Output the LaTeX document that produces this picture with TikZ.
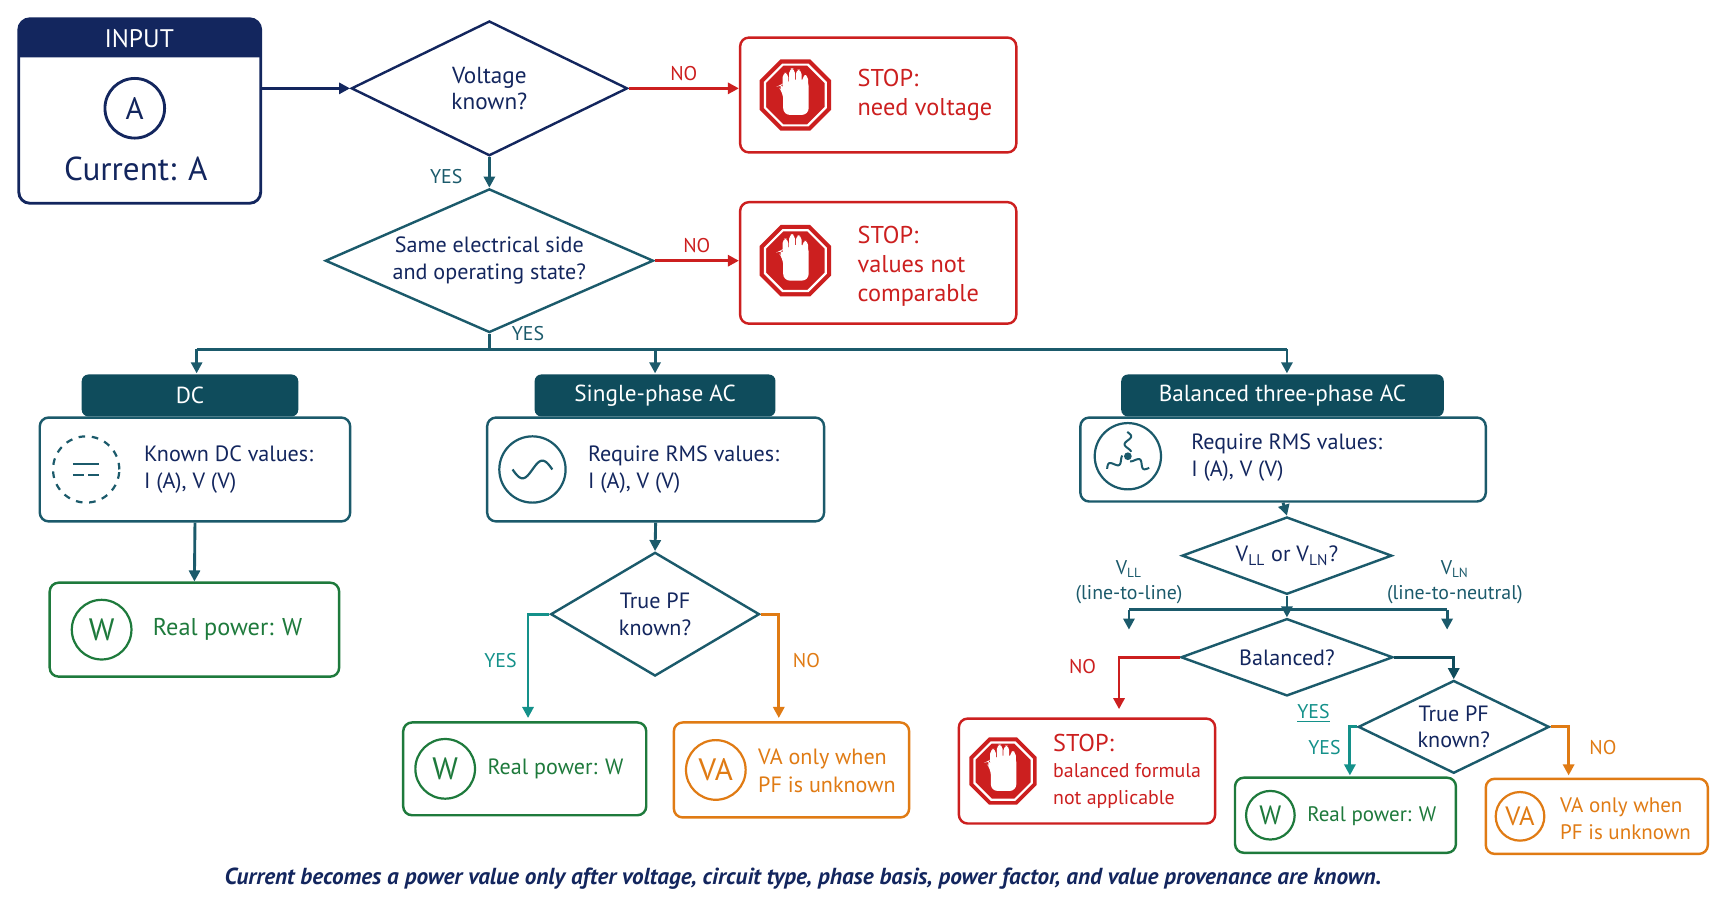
\documentclass[tikz,border=0pt]{standalone}
\usepackage{fontspec}
\setmainfont{PT Sans}
\usetikzlibrary{shapes.geometric,arrows.meta}
\definecolor{navy}{HTML}{13265E}
\definecolor{tl}{HTML}{1B5A6B}
\definecolor{hd}{HTML}{0F4C5C}
\definecolor{rd}{HTML}{CC1F1F}
\definecolor{gr}{HTML}{1E7A3C}
\definecolor{og}{HTML}{E07B14}
\definecolor{yt}{HTML}{14918A}
\newcommand\mystop[3]{% x y r
  \fill[rd] (#1,#2) ++(22.5:#3) \foreach \k in {1,...,7}{ -- ++({22.5+45*\k+67.5}:{2*#3*sin(22.5)}) } -- cycle;
  \draw[white,line width=1pt] (#1,#2) ++(22.5:#3*0.85) \foreach \k in {1,...,7}{ -- ++({22.5+45*\k+67.5}:{2*0.85*#3*sin(22.5)}) } -- cycle;
  \begin{scope}[shift={(#1,#2)},white]
   \fill[rounded corners=3pt] (-11,18) -- (-11,-2) -- (-16,-8) -- (-12,-10) -- (-8,-6) -- (-8,-14) -- (12,-14) -- (12,18) -- cycle;
   \foreach \fx/\fy in {-9/-20,-3/-24,3/-23,9/-18}{\fill[rounded corners=2pt] (\fx-2.6,\fy) rectangle (\fx+2.6,-4);}
  \end{scope}}
\tikzset{
 every node/.style={font=\fontsize{10}{12}\selectfont},
 ln/.style={line width=1.3pt},
 arr/.style={ln,-{Triangle[length=5pt,width=5pt]}},
 box/.style={draw,rounded corners=4pt,line width=1.1pt,fill=white,minimum width=#1},
 dia/.style n args={2}{draw,diamond,line width=1.1pt,inner sep=0pt,minimum width=#1,minimum height=#2,aspect=2},
 hdr/.style={fill=hd,text=white,rounded corners=3pt,font=\fontsize{10.5}{12}\selectfont},
 txt/.style={anchor=west,align=left,inner sep=0pt},
 lab/.style={font=\fontsize{9}{11}\selectfont,inner sep=0pt},
 ic/.style={draw,circle,line width=1pt,inner sep=0pt,minimum size=#1},
}
\begin{document}
\begin{tikzpicture}[x=0.5pt,y=-0.5pt]
\useasboundingbox (0,0) rectangle (1567,823);
% input
\draw[navy,line width=1.3pt,rounded corners=5pt] (17,17) rectangle (236,184);
\fill[navy] (17,52) [rounded corners=5pt] -- (17,17) -- (236,17) [sharp corners] -- (236,52) -- cycle;
\node[text=white,font=\fontsize{11.5}{13}\selectfont] (inh) at (126,35) {INPUT};
\node[ic=27pt,navy,line width=1.3pt,font=\fontsize{14}{16}\selectfont] (ia) at (122,98) {A};
\node[navy,font=\fontsize{15}{18}\selectfont] (in) at (123,153) {Current: A};
\coordinate (inr) at (236,80);
% d1
\node[dia={125pt}{61pt},navy,align=center,text=navy,font=\fontsize{10.5}{12}\selectfont] (d1) at (443,80) {Voltage\\known?};
\draw[arr,navy] (inr) -- (d1.west);
\node[box=125pt,minimum height=52pt,draw=rd] (s1) at (795,86) {};
\mystop{720}{86}{35}
\node[txt,text=rd,font=\fontsize{11}{13}\selectfont] (s1t) at (776,86) {STOP:\\need voltage};
\draw[arr,rd] (d1.east) -- (d1.east -| s1.west) node[midway,above=3pt,lab,text=rd] {NO};
% d2
\node[dia={148.5pt}{60pt},tl,align=center,text=navy] (d2) at (443,236) {Same electrical side\\and operating state?};
\draw[arr,tl] (d1.south) -- (d2.north);
\node[lab,text=tl] at (404,160) {YES};
\node[box=125pt,minimum height=55pt,draw=rd] (s2) at (795,238) {};
\mystop{720}{236}{35}
\node[txt,text=rd,font=\fontsize{11}{13}\selectfont] (s2t) at (776,241) {STOP:\\values not\\comparable};
\draw[arr,rd] (d2.east) -- (d2.east -| s2.west) node[midway,above=3pt,lab,text=rd] {NO};
\node[lab,text=tl] at (478,302) {YES};
% branches
\coordinate (bj) at (443,316);
\node[hdr,minimum width=98pt,minimum height=19pt] (h1) at (172,358) {DC};
\node[hdr,minimum width=109pt,minimum height=19pt] (h2) at (593,358) {Single-phase AC};
\node[hdr,minimum width=146pt,minimum height=19pt] (h3) at (1161,358) {Balanced three-phase AC};
\draw[ln,tl] (d2.south) -- (bj);
\draw[ln,tl] (178,316) -- (1165,316);
\draw[arr,tl] (178,316) -- (178,338);
\draw[arr,tl] (593,316) -- (593,338);
\draw[arr,tl] (1165,316) -- (1165,338);
% DC
\node[box=140.5pt,minimum height=47pt,draw=tl] (b1) at (176.5,425) {};
\node[ic=30pt,draw=tl,dashed] (i1) at (78,425) {};
\draw[tl,line width=1.2pt] (66,420) -- (90,420);
\draw[tl,line width=1.2pt,dash pattern=on 5pt off 2pt] (66,430) -- (90,430);
\node[txt,text=navy] (b1t) at (130,425) {Known DC values:\\I (A), V (V)};
\node[box=131pt,minimum height=42.5pt,draw=gr] (g1) at (176,570) {};
\draw[arr,tl] (b1.south) -- (g1.north);
\node[ic=27pt,gr,font=\fontsize{14}{16}\selectfont] (w1) at (92,570) {W};
\node[txt,text=gr,font=\fontsize{11}{13}\selectfont] at (138,570) {Real power: W};
% single
\node[box=152.5pt,minimum height=47pt,draw=tl] (b2) at (593.5,425) {};
\node[ic=30pt,draw=tl] (i2) at (482,425) {};
\draw[tl,line width=1pt,domain=-18:18,samples=40] plot (\x+482,{425-8*sin(\x*10)});
\node[txt,text=navy] (b2t) at (532,425) {Require RMS values:\\I (A), V (V)};
\node[dia={94.5pt}{56pt},tl,align=center,text=navy] (d3) at (593,556) {True PF\\known?};
\draw[arr,tl] (b2.south) -- (d3.north);
\node[box=110pt,minimum height=42pt,draw=gr] (g2) at (475,696) {};
\node[ic=27pt,gr,font=\fontsize{14}{16}\selectfont] (w2) at (403,696) {W};
\node[txt,text=gr,font=\fontsize{10}{12}\selectfont] at (441,696) {Real power: W};
\node[box=106.5pt,minimum height=43pt,draw=og] (o2) at (716.5,697) {};
\node[ic=27pt,og,font=\fontsize{14}{16}\selectfont] (va2) at (648,697) {VA};
\node[txt,text=og,font=\fontsize{10}{12.5}\selectfont] at (686,698) {VA only when\\PF is unknown};
\draw[arr,yt] (d3.west) -| (478,650);
\draw[arr,og] (d3.east) -| (705,650);
\node[lab,text=yt] at (453,598) {YES};
\node[lab,text=og] at (730,598) {NO};
% three-phase
\node[box=183.5pt,minimum height=38pt,draw=tl] (b3) at (1161.5,416) {};
\node[ic=30pt,draw=tl] (i3) at (1021,413) {};
\begin{scope}[shift={(1021,413)},tl,line width=0.9pt]
 \foreach \a in {90,210,330}{\draw[rotate=\a,domain=4:22,samples=25] plot (\x,{3*sin(\x*25)});}
 \fill (0,0) circle (3.5);
\end{scope}
\node[txt,text=navy] (b3t) at (1078,414) {Require RMS values:\\I (A), V (V)};
\node[dia={95pt}{35pt},tl,text=navy] (d4) at (1165,503) {V\textsubscript{LL} or V\textsubscript{LN}?};
\draw[arr,tl] (b3.south) -- (d4.north);
\node[dia={96pt}{35pt},tl,text=navy] (d5) at (1165,595) {Balanced?};
\draw[arr,tl] (d4.south) -- (d5.north);
\draw[ln,tl] (1022,552) -- (1310,552);
\coordinate (vll) at (1022,570);
\coordinate (vln) at (1310,570);
\draw[arr,tl] (1022,552) -- (vll);
\draw[arr,tl] (1310,552) -- (vln);
\node[lab,text=tl,align=center] at (1022,527) {V\textsubscript{LL}\\(line-to-line)};
\node[lab,text=tl,align=center] at (1317,527) {V\textsubscript{LN}\\(line-to-neutral)};
\node[box=116pt,minimum height=47.5pt,draw=rd] (s3) at (984,698) {};
\mystop{908}{698}{33}
\node[txt,text=rd,font=\fontsize{9}{12}\selectfont] at (953,698) {{\fontsize{11}{13}\selectfont STOP:}\\balanced formula\\not applicable};
\draw[arr,rd] (d5.west) -| (1013,642);
\node[lab,text=rd] at (980,603) {NO};
\node[dia={86.5pt}{42pt},tl,align=center,text=navy] (d6) at (1316,658) {True PF\\known?};
\draw[arr,hd] (d5.east) -| (d6.north);
\node[lab,text=yt] at (1189,646) {\underline{YES}};
\node[box=100pt,minimum height=34pt,draw=gr] (g3) at (1218,738) {};
\node[ic=22pt,gr,font=\fontsize{12}{14}\selectfont] (w3) at (1150,738) {W};
\node[txt,text=gr,font=\fontsize{9.5}{12}\selectfont] at (1183,739) {Real power: W};
\node[box=100.5pt,minimum height=34pt,draw=og] (o3) at (1445.5,739) {};
\node[ic=22pt,og,font=\fontsize{12}{14}\selectfont] (va3) at (1376,739) {VA};
\node[txt,text=og,font=\fontsize{9.5}{12}\selectfont] at (1412,741) {VA only when\\PF is unknown};
\draw[arr,yt] (d6.west) -| (1222,702);
\draw[arr,og] (d6.east) -| (1420,702);
\node[lab,text=yt] at (1199,677) {YES};
\node[lab,text=og] at (1451,677) {NO};
% caption
\node[text=navy,font=\fontsize{10.5}{12}\selectfont\bfseries\itshape] (cap) at (727,795) {Current becomes a power value only after voltage, circuit type, phase basis, power factor, and value provenance are known.};
\end{tikzpicture}
\end{document}
